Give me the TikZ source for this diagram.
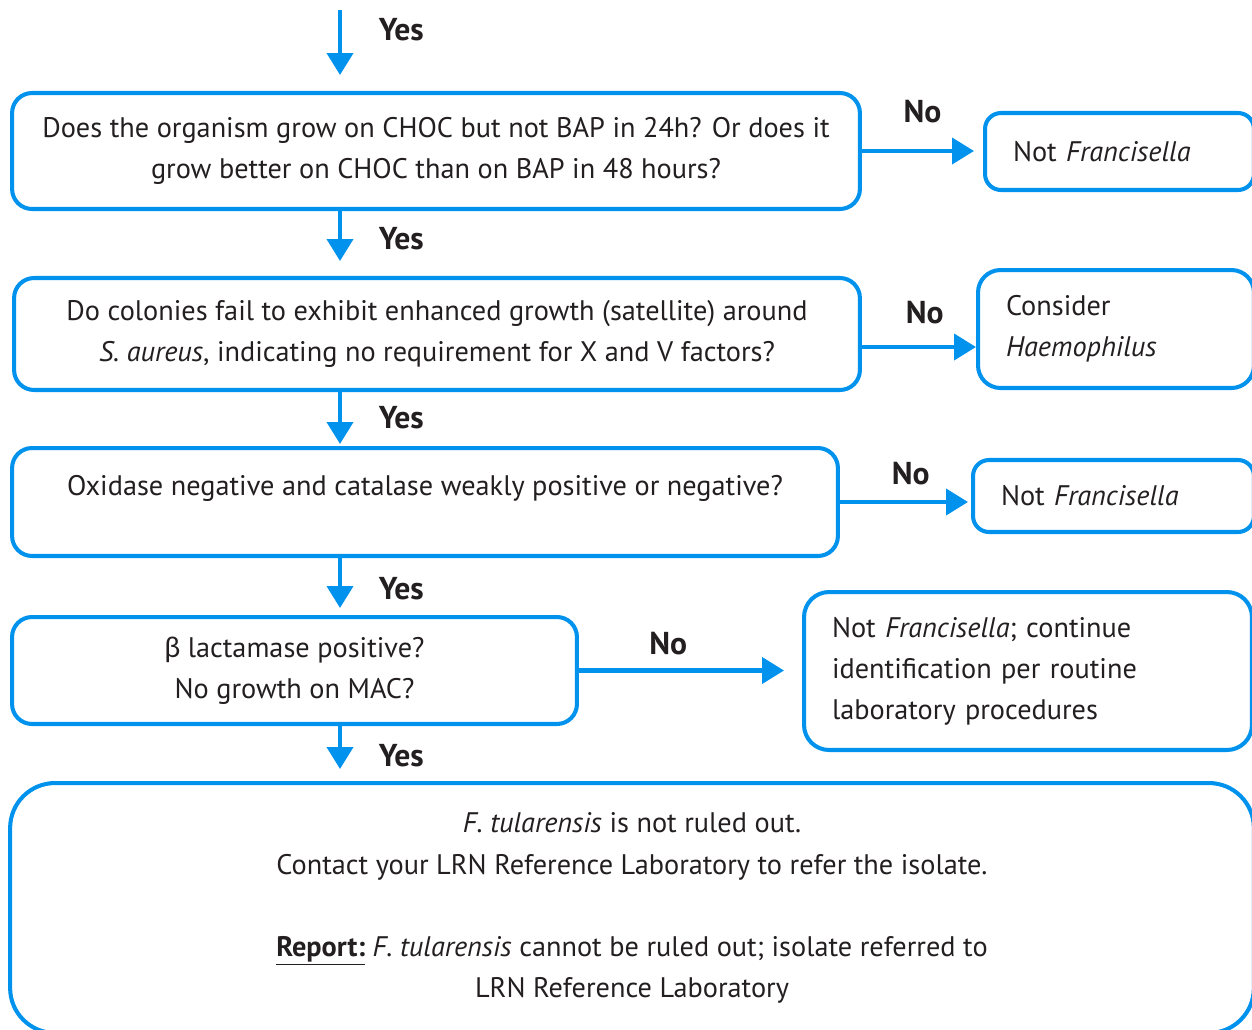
\documentclass[tikz,border=0pt]{standalone}
\usepackage{fontspec}
\setmainfont{PT Sans}
\newfontfamily\greekfont{Lato}
\definecolor{cdcblue}{RGB}{0,146,236}
\definecolor{cdctext}{RGB}{35,31,32}
\usetikzlibrary{arrows.meta,positioning}

\begin{document}
\begin{tikzpicture}[
  x=0.02cm, y=-0.02cm,
  every node/.style={font=\fontsize{16.1}{23.4}\selectfont,text=cdctext},
  qbox/.style={draw=cdcblue,line width=2.3pt,rounded corners=0.4cm,
               align=center,inner sep=0pt},
  endbox/.style={draw=cdcblue,line width=2.3pt,rounded corners=0.32cm,
                 align=left,inner xsep=0.56cm,inner ysep=0pt},
  arr/.style={-{Triangle[length=0.44cm,width=0.52cm]},line width=2.3pt,cdcblue},
  yes/.style={font=\fontsize{18}{20}\selectfont\bfseries,right=0.62cm},
  no/.style={font=\fontsize{18}{20}\selectfont\bfseries},
]
  \useasboundingbox (0,0) rectangle (1252,1029);

  % Questions
  \node[qbox,minimum width=16.96cm,minimum height=2.32cm] (q1) at (436,151)
    {Does the organism grow on CHOC but not BAP in 24h? Or does it\\
     grow better on CHOC than on BAP in 48 hours?};
  \node[qbox,minimum width=16.92cm,minimum height=2.24cm] (q2) at (437,334)
    {Do colonies fail to exhibit enhanced growth (satellite) around\\
     \textit{S. aureus}, indicating no requirement for X and V factors?};
  \node[qbox,minimum width=16.52cm,minimum height=2.16cm] (q3) at (425,502) {};
  \node (q3text) at (425,488)
    {Oxidase negative and catalase weakly positive or negative?};
  \node[qbox,minimum width=11.3cm,minimum height=2.14cm] (q4) at (294.5,670.5)
    {{\greekfont β} lactamase positive?\\No growth on MAC?};

  % Outcomes
  \node[endbox,text width=4.26cm,minimum height=1.54cm] (n1) at (1119.5,151.5)
    {Not \textit{Francisella}};
  \node[endbox,text width=4.40cm,minimum height=2.36cm,rounded corners=0.45cm] (n2) at (1116,329)
    {Consider\\\textit{Haemophilus}};
  \node[endbox,text width=4.50cm,minimum height=1.44cm] (n3) at (1113.5,496)
    {Not \textit{Francisella}};
  \node[endbox,text width=7.84cm,minimum height=3.16cm,rounded corners=0.5cm] (n4) at (1028,671)
    {Not \textit{Francisella}; continue\\identification per routine\\laboratory procedures};
  \node[qbox,rounded corners=0.9cm,minimum width=24.88cm,minimum height=5cm] (rep) at (632,908)
    {\textit{F. tularensis} is not ruled out.\\
     Contact your LRN Reference Laboratory to refer the isolate.\\[0.82cm]
     \underline{\textbf{Report:}} \textit{F. tularensis} cannot be ruled out; isolate referred to\\
     LRN Reference Laboratory};

  % Yes arrows
  \coordinate (start) at (340,10);
  \draw[arr,shorten >=0.32cm] (start) -- (start |- q1.north)
    node[yes,pos=0.24] (y1) {Yes};
  \draw[arr,shorten >=0.30cm] (q1.south -| start) -- (q2.north -| start)
    node[yes,pos=0.42] (y2) {Yes};
  \draw[arr,shorten >=0.04cm] (q2.south -| start) -- (q3.north -| start)
    node[yes,pos=0.48] (y3) {Yes};
  \draw[arr,shorten >=0.14cm] (q3.south -| start) -- (q4.north -| start)
    node[yes,pos=0.54] (y4) {Yes};
  \draw[arr,shorten >=0.24cm] (q4.south -| start) -- (rep.north -| start)
    node[yes,pos=0.54] (y5) {Yes};

  % No arrows
  \draw[arr,shorten >=0.18cm] (q1.east) -- (q1.east -| n1.west)
    node[no,midway,above=0.4cm] (no1) {No};
  \draw[arr] ([yshift=-0.26cm]q2.east) -- ([yshift=-0.26cm]q2.east -| n2.west)
    node[no,pos=0.55,above=0.3cm] (no2) {No};
  \draw[arr,shorten >=0.06cm] (q3.east) -- (q3.east -| n3.west)
    node[no,pos=0.54,above=0.18cm] (no3) {No};
  \draw[arr,shorten >=0.36cm] (q4.east) -- (q4.east -| n4.west)
    node[no,pos=0.40,above=0.16cm] (no4) {No};
\end{tikzpicture}
\end{document}
